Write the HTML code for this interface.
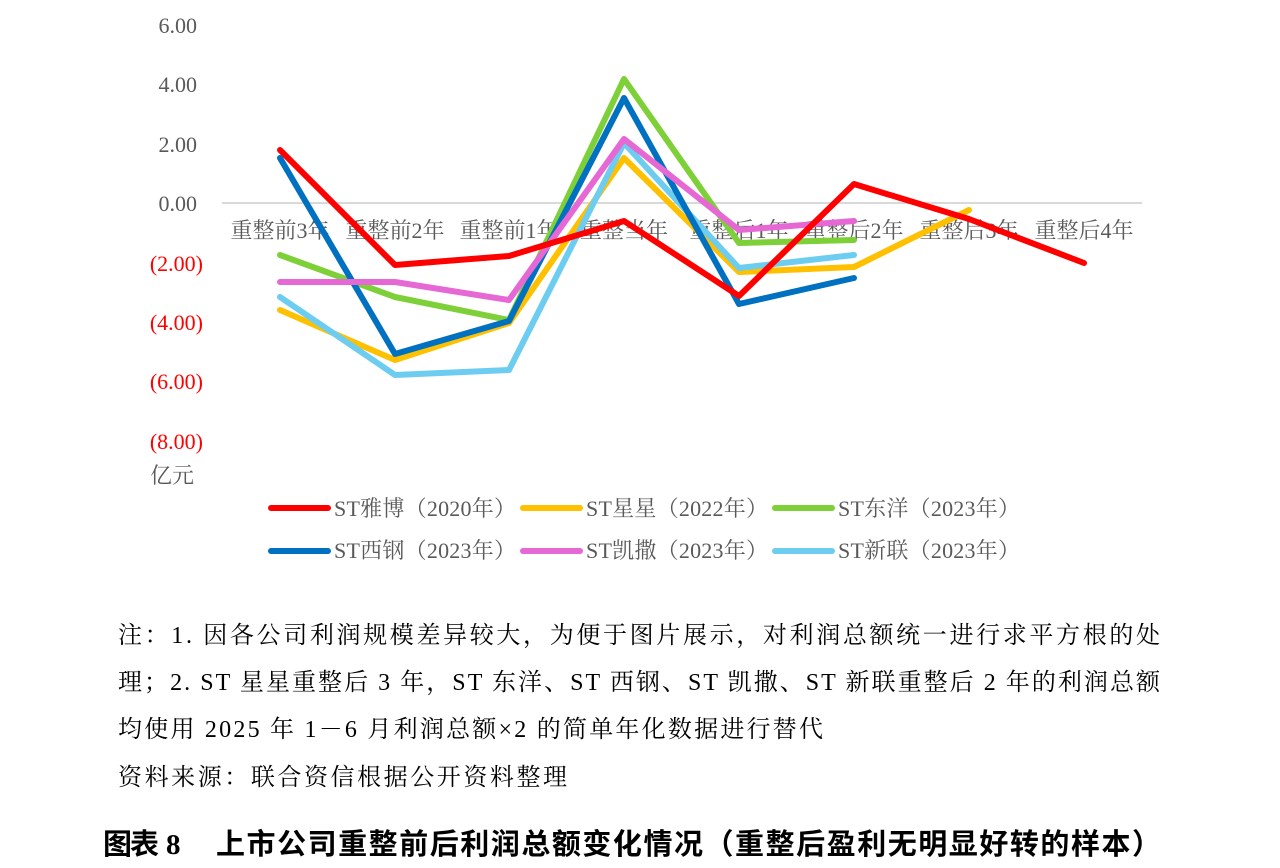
<!DOCTYPE html>
<html><head><meta charset="utf-8">
<style>
html,body{margin:0;padding:0;background:#fff;}
svg{display:block;}
.tk{font-family:"Liberation Serif","Noto Serif CJK SC",serif;font-size:22px;}
.cat{font-family:"Liberation Serif","Noto Serif CJK SC",serif;font-size:22px;fill:#595959;}
.lg{font-family:"Liberation Serif","Noto Serif CJK SC",serif;font-size:22px;fill:#595959;}
.nt{font-family:"Liberation Serif","Noto Serif CJK SC",serif;font-size:24px;fill:#000;}
.tt{font-family:"Liberation Sans","Noto Sans CJK SC",sans-serif;font-size:29px;font-weight:700;fill:#000;}
</style></head>
<body>
<svg width="1280" height="868" viewBox="0 0 1280 868" xmlns="http://www.w3.org/2000/svg">
<rect width="1280" height="868" fill="#fff"/>
<g class="tk" text-anchor="end">
<text x="197" y="33" fill="#595959">6.00</text>
<text x="197" y="92" fill="#595959">4.00</text>
<text x="197" y="152" fill="#595959">2.00</text>
<text x="197" y="211" fill="#595959">0.00</text>
<text x="203" y="271" fill="#ff0000">(2.00)</text>
<text x="203" y="330" fill="#ff0000">(4.00)</text>
<text x="203" y="389" fill="#ff0000">(6.00)</text>
<text x="203" y="449" fill="#ff0000">(8.00)</text>
</g>
<text class="lg" x="150" y="483">亿元</text>
<line x1="222" y1="203" x2="1142" y2="203" stroke="#d9d9d9" stroke-width="2"/>
<g class="cat" text-anchor="middle">
<text x="280" y="238">重整前3年</text>
<text x="395" y="238">重整前2年</text>
<text x="509" y="238">重整前1年</text>
<text x="624" y="238">重整当年</text>
<text x="739" y="238">重整后1年</text>
<text x="854" y="238">重整后2年</text>
<text x="969" y="238">重整后3年</text>
<text x="1084" y="238">重整后4年</text>
</g>
<g fill="none" stroke-width="6" stroke-linejoin="round" stroke-linecap="round">
<polyline stroke="#ffc000" points="280,310 395,360 509,323 624,158 739,272 854,267 969,210"/>
<polyline stroke="#6dcdf0" points="280,297 395,375 509,370 624,143 739,268 854,255"/>
<polyline stroke="#7ed038" points="280,255 395,297 509,320 624,79 739,243 854,240"/>
<polyline stroke="#0070c0" points="280,158 395,354 509,321 624,98 739,304 854,278"/>
<polyline stroke="#e668d4" points="280,282 395,282 509,300 624,139 739,230 854,221"/>
<polyline stroke="#ff0000" points="280,150 395,265 509,256 624,221 739,296 854,184 969,219 1084,263"/>
</g>
<g stroke-width="6" stroke-linecap="round">
<line x1="271" y1="508" x2="328" y2="508" stroke="#ff0000"/>
<line x1="523" y1="508" x2="580" y2="508" stroke="#ffc000"/>
<line x1="775" y1="508" x2="832" y2="508" stroke="#7ed038"/>
<line x1="271" y1="551" x2="328" y2="551" stroke="#0070c0"/>
<line x1="523" y1="551" x2="580" y2="551" stroke="#e668d4"/>
<line x1="775" y1="551" x2="832" y2="551" stroke="#6dcdf0"/>
</g>
<g class="lg">
<text x="334" y="516" textLength="182" lengthAdjust="spacing">ST雅博（2020年）</text>
<text x="586" y="516" textLength="182" lengthAdjust="spacing">ST星星（2022年）</text>
<text x="838" y="516" textLength="182" lengthAdjust="spacing">ST东洋（2023年）</text>
<text x="334" y="558" textLength="182" lengthAdjust="spacing">ST西钢（2023年）</text>
<text x="586" y="558" textLength="182" lengthAdjust="spacing">ST凯撒（2023年）</text>
<text x="838" y="558" textLength="182" lengthAdjust="spacing">ST新联（2023年）</text>
</g>
<g class="nt">
<text x="118" y="643" textLength="1042" lengthAdjust="spacing">注：1. 因各公司利润规模差异较大，为便于图片展示，对利润总额统一进行求平方根的处</text>
<text x="118" y="690" textLength="1042" lengthAdjust="spacing">理；2. ST 星星重整后 3 年，ST 东洋、ST 西钢、ST 凯撒、ST 新联重整后 2 年的利润总额</text>
<text x="118" y="737" textLength="705" lengthAdjust="spacing">均使用 2025 年 1－6 月利润总额×2 的简单年化数据进行替代</text>
<text x="118" y="785" textLength="449" lengthAdjust="spacing">资料来源：联合资信根据公开资料整理</text>
</g>
<text class="tt" x="103" y="854" textLength="56" lengthAdjust="spacing">图表</text>
<text x="166" y="854" font-family="Liberation Serif, serif" font-weight="700" font-size="29" fill="#000">8</text>
<text class="tt" x="216" y="854" textLength="945" lengthAdjust="spacing">上市公司重整前后利润总额变化情况（重整后盈利无明显好转的样本）</text>
</svg>
</body></html>
